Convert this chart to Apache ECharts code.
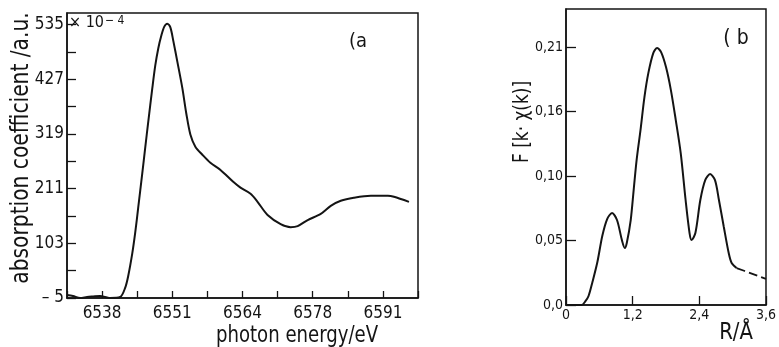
<!DOCTYPE html>
<html>
<head>
<meta charset="utf-8">
<script src="https://cdn.jsdelivr.net/npm/echarts@6/dist/echarts.min.js"></script>
<style>
html,body{margin:0;padding:0;background:#fff;}
#c{width:779px;height:347px;}
</style>
</head>
<body>
<div id="c"></div>
<script>
// ---- panel (a): XANES spectrum ----
var energyEV = [6531.375, 6532.51, 6533.85, 6535.16, 6536.3, 6537.62, 6538.95, 6539.51, 6541.41, 6542.35, 6542.92, 6543.68, 6544.25, 6544.81, 6545.57, 6546.14, 6546.71, 6547.46, 6548.03, 6548.6, 6549.17, 6549.74, 6550.3, 6550.87, 6551.44, 6552.2, 6553.14, 6553.9, 6554.66, 6555.6, 6556.93, 6558.44, 6560.34, 6562.8, 6564.12, 6566.02, 6567.34, 6569.23, 6571.7, 6573.59, 6574.91, 6576.81, 6579.27, 6581.16, 6583.05, 6585.51, 6588.73, 6591.95, 6593.08, 6595.92];
var absorption = [1, -1, -5, -3, -2, -1, -4, -5, -3, 15, 38, 82, 124, 173, 240, 292, 343, 408, 454, 488, 513, 531, 537, 530, 503, 462, 410, 359, 318, 294, 278, 262, 248, 224, 213, 201, 185, 159, 141, 135, 137, 149, 161, 177, 187, 193, 197, 197, 195, 185];
var xTickValuesA = [6531.375, 6538, 6544.625, 6551.25, 6557.875, 6564.5, 6571.125, 6577.75, 6584.375, 6591, 6597.625];
var xLabelValuesA = [6538, 6551.25, 6564.5, 6577.75, 6591];
var xLabelsA = ['6538', '6551', '6564', '6578', '6591'];
var yTickValuesA = [-5, 49, 103, 157, 211, 265, 319, 373, 427, 481, 535];
var yLabelValuesA = [-5, 103, 211, 319, 427, 535];
var yLabelsA = ['\u2013 5', '103', '211', '319', '427', '535'];

// ---- panel (b): Fourier transform ----
var radiusR = [0, 0.282, 0.353, 0.406, 0.476, 0.565, 0.653, 0.741, 0.829, 0.918, 1.006, 1.059, 1.094, 1.165, 1.218, 1.271, 1.341, 1.412, 1.482, 1.571, 1.641, 1.712, 1.8, 1.888, 1.976, 2.065, 2.153, 2.224, 2.259, 2.329, 2.418, 2.506, 2.594, 2.682, 2.753, 2.841, 2.929, 2.982, 3.071];
var ftMag = [0, 0, 0.0033, 0.0073, 0.0187, 0.035, 0.0562, 0.07, 0.0749, 0.0692, 0.0529, 0.0464, 0.0505, 0.0692, 0.0936, 0.118, 0.1424, 0.1693, 0.1888, 0.2051, 0.2092, 0.2059, 0.1937, 0.175, 0.1506, 0.1237, 0.0855, 0.0586, 0.0529, 0.0586, 0.0855, 0.1017, 0.1066, 0.1017, 0.0855, 0.0635, 0.0423, 0.0342, 0.0301];
var radiusDashed = [3.071, 3.33, 3.6];
var ftDashed = [0.0301, 0.0258, 0.0212];
var xTickValuesB = [0, 1.2, 2.4, 3.6];
var xLabelsB = ['0', '1,2', '2,4', '3,6'];
var yTickValuesB = [0, 0.0525, 0.105, 0.1575, 0.21];
var yLabelsB = ['0,0', '0,05', '0,10', '0,16', '0,21'];

function pairs(xs, ys) { return xs.map(function (x, i) { return [x, ys[i]]; }); }
function lookup(vals, labels) {
  return function (v) {
    var best = 0, bd = Infinity;
    for (var i = 0; i < vals.length; i++) { var d = Math.abs(vals[i] - v); if (d < bd) { bd = d; best = i; } }
    return bd < 1e-6 * (1 + Math.abs(v)) ? labels[best] : '';
  };
}

var FONT = '"DejaVu Sans Condensed", "Liberation Sans Narrow", sans-serif';
var INK = '#141414';
var axisLine = { show: true, onZero: false, lineStyle: { color: INK, width: 1.5 } };

var chart = echarts.init(document.getElementById('c'), null, { renderer: 'canvas' });
chart.setOption({
  animation: false,
  backgroundColor: '#fff',
  grid: [
    { left: 67, top: 13, width: 351, height: 285, show: true, borderColor: INK, borderWidth: 1.5, backgroundColor: 'transparent' },
    { left: 566, top: 9, width: 204, height: 296, show: true, borderColor: INK, borderWidth: 1.5, backgroundColor: 'transparent' }
  ],
  xAxis: [
    {
      type: 'value', gridIndex: 0, min: 6531.375, max: 6597.625,
      axisLine: axisLine,
      axisTick: { show: true, inside: true, length: 7, customValues: xTickValuesA, lineStyle: { color: INK, width: 1.3 } },
      axisLabel: { customValues: xLabelValuesA, formatter: lookup(xLabelValuesA, xLabelsA), margin: 7, color: INK, fontFamily: FONT, fontSize: 17 },
      splitLine: { show: false }
    },
    {
      type: 'value', gridIndex: 1, min: 0, max: 3.6,
      axisLine: axisLine,
      axisTick: { show: true, inside: true, length: 9, customValues: xTickValuesB, lineStyle: { color: INK, width: 1.3 } },
      axisLabel: { customValues: xTickValuesB, formatter: lookup(xTickValuesB, xLabelsB), margin: 3, color: INK, fontFamily: FONT, fontSize: 14 },
      splitLine: { show: false }
    }
  ],
  yAxis: [
    {
      type: 'value', gridIndex: 0, min: -5, max: 558,
      axisLine: axisLine,
      axisTick: { show: true, inside: true, length: 9, customValues: yTickValuesA, lineStyle: { color: INK, width: 1.3 } },
      axisLabel: { customValues: yLabelValuesA, formatter: lookup(yLabelValuesA, yLabelsA), margin: 3, color: INK, fontFamily: FONT, fontSize: 17 },
      splitLine: { show: false }
    },
    {
      type: 'value', gridIndex: 1, min: 0, max: 0.241,
      axisLine: axisLine,
      axisTick: { show: true, inside: true, length: 10, customValues: yTickValuesB, lineStyle: { color: INK, width: 1.3 } },
      axisLabel: { customValues: yTickValuesB, formatter: lookup(yTickValuesB, yLabelsB), margin: 3, color: INK, fontFamily: FONT, fontSize: 14 },
      splitLine: { show: false }
    }
  ],
  series: [
    {
      type: 'line', xAxisIndex: 0, yAxisIndex: 0, data: pairs(energyEV, absorption),
      smooth: 0.3, symbol: 'none', lineStyle: { color: INK, width: 2 }, silent: true
    },
    {
      type: 'line', xAxisIndex: 1, yAxisIndex: 1, data: pairs(radiusR, ftMag),
      smooth: 0.3, symbol: 'none', lineStyle: { color: INK, width: 2 }, silent: true
    },
    {
      type: 'line', xAxisIndex: 1, yAxisIndex: 1, data: pairs(radiusDashed, ftDashed),
      smooth: 0.3, symbol: 'none', lineStyle: { color: INK, width: 1.8, type: [9, 4] }, silent: true
    }
  ],
  graphic: [
    { type: 'text', x: 69, y: 15, style: { text: '{m|\u00d7 10}{s|\u2212 4}', fill: INK,
      rich: { m: { fontSize: 16, fontFamily: FONT, fill: INK, verticalAlign: 'bottom' }, s: { fontSize: 12, fontFamily: FONT, fill: INK, verticalAlign: 'top', padding: [0, 0, 4, 1] } } } },
    { type: 'text', x: 21, y: 148, rotation: Math.PI / 2, scaleX: 0.9, style: { text: 'absorption coefficient /a.u.', fill: INK, font: '25px ' + FONT, align: 'center', verticalAlign: 'middle' } },
    { type: 'text', x: 297, y: 336, scaleX: 0.875, style: { text: 'photon energy/eV', fill: INK, font: '23px ' + FONT, align: 'center', verticalAlign: 'middle' } },
    { type: 'text', x: 358, y: 42, style: { text: '(a', fill: INK, font: '20px ' + FONT, align: 'center', verticalAlign: 'middle' } },
    { type: 'text', x: 523, y: 122, rotation: Math.PI / 2, scaleX: 0.9, style: { text: 'F [k\u00b7 \u03c7(k)]', fill: INK, font: '21px ' + FONT, align: 'center', verticalAlign: 'middle' } },
    { type: 'text', x: 736, y: 333, scaleX: 0.95, style: { text: 'R/\u00c5', fill: INK, font: '23px ' + FONT, align: 'center', verticalAlign: 'middle' } },
    { type: 'text', x: 736, y: 39, style: { text: '( b', fill: INK, font: '21px ' + FONT, align: 'center', verticalAlign: 'middle' } }
  ]
});
</script>
</body>
</html>
